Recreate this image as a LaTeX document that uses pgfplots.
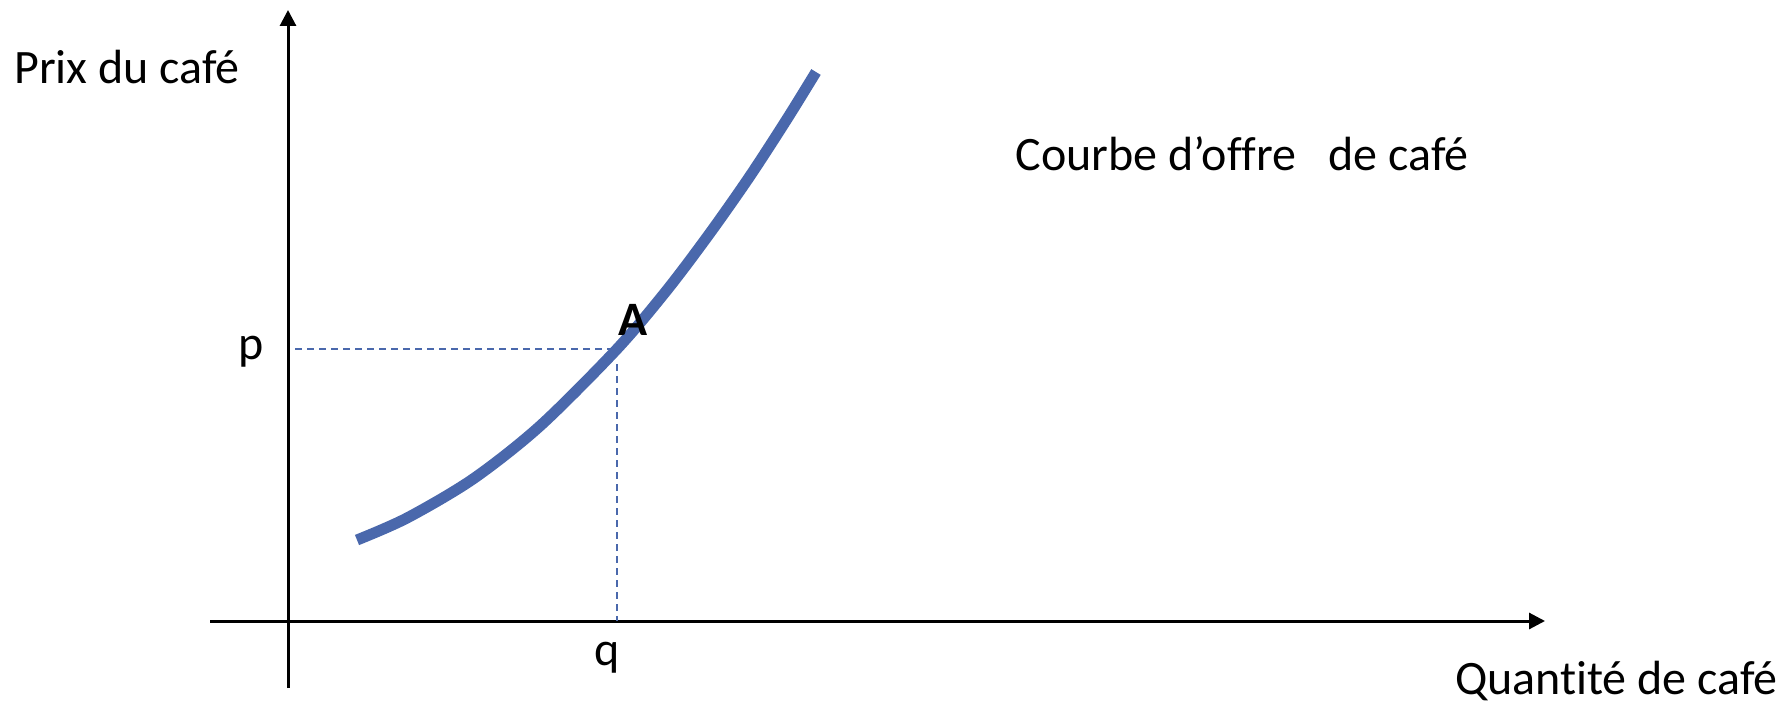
\documentclass[border=0pt]{standalone}
\usepackage{pgfplots}
\pgfplotsset{compat=1.18}
\usepackage{fontspec}
\setmainfont[Ligatures=NoCommon]{Carlito}
\usetikzlibrary{arrows.meta}
\definecolor{curveblue}{RGB}{74,104,172}
\newcommand{\lbl}{\fontsize{24}{29}\selectfont}
\begin{document}
\begin{tikzpicture}
\useasboundingbox (0,0) rectangle (890pt,351.5pt);
\begin{axis}[
  scale only axis, width=890pt, height=351.5pt,
  xmin=-288, xmax=1492, ymin=-82, ymax=621,
  axis lines=none, clip=false,
]
% axes
\addplot[black, line width=1.5pt, -{Triangle[length=8pt,width=8pt]}] coordinates {(-78,0) (1257,0)};
\addplot[black, line width=1.5pt, -{Triangle[length=8pt,width=8pt]}] coordinates {(0,-67) (0,611)};
% supply curve
\addplot[curveblue, line width=5.5pt, smooth] coordinates {
 (69,81) (119,103) (185,142) (252,195) (329,272) (379,331) (422,388) (462,445) (499,502) (528,549)};
% dashed guides
\addplot[curveblue, line width=1pt, dash pattern=on 3.5pt off 2.5pt] coordinates {(7,272) (325,272)};
\addplot[curveblue, line width=1pt, dash pattern=on 3.5pt off 2.5pt] coordinates {(329,257) (329,0)};
% labels
\node[inner sep=0pt, anchor=base west] at (axis cs:-274,537) {\lbl Prix du café};
\node[inner sep=0pt, anchor=base west] at (axis cs:727,450) {\lbl Courbe d’offre\ \ \ de café};
\node[inner sep=0pt, anchor=base east] at (axis cs:1490,-73) {\lbl Quantité de café};
\node[inner sep=0pt, anchor=base] at (axis cs:-37,262) {\lbl p};
\node[inner sep=0pt, anchor=base] at (axis cs:319,-44) {\lbl q};
\node[inner sep=0pt, anchor=base] at (axis cs:345,286) {\fontsize{24}{29}\selectfont\bfseries A};
\end{axis}
\end{tikzpicture}
\end{document}
